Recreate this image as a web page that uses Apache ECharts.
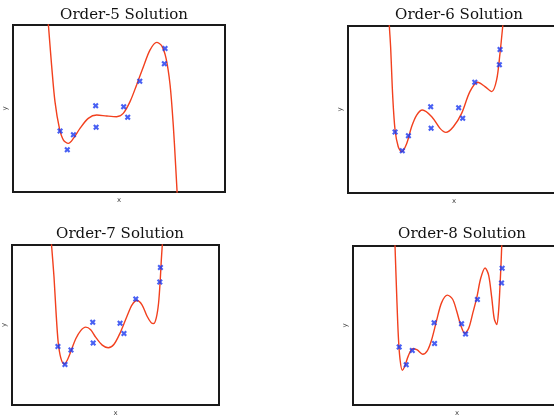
<!DOCTYPE html>
<html>
<head>
<meta charset="utf-8">
<script src="https://cdn.jsdelivr.net/npm/echarts@6/dist/echarts.min.js"></script>
<style>
html,body{margin:0;padding:0;background:#fff;overflow:hidden;width:554px;height:418px;}
#chart{width:570px;height:418px;}
</style>
</head>
<body>
<div id="chart"></div>
<script>
// Observed data points (same in every panel)
var pointX = [0.222, 0.256, 0.285, 0.390, 0.392, 0.522, 0.541, 0.598, 0.717, 0.714];
var pointY = [0.365, 0.253, 0.343, 0.517, 0.387, 0.511, 0.447, 0.663, 0.860, 0.768];

var titles = ["Order-5 Solution", "Order-6 Solution", "Order-7 Solution", "Order-8 Solution"];

// Fitted curves
var curve5X = [0.160, 0.167, 0.182, 0.198, 0.219, 0.238, 0.261, 0.285, 0.316, 0.355, 0.395, 0.442, 0.489, 0.520, 0.552, 0.583, 0.615, 0.646, 0.678, 0.701, 0.722, 0.741, 0.756, 0.767, 0.774, 0.780];
var curve5Y = [1.11, 1.00, 0.760, 0.541, 0.381, 0.311, 0.291, 0.321, 0.381, 0.441, 0.461, 0.455, 0.451, 0.471, 0.541, 0.641, 0.750, 0.850, 0.896, 0.876, 0.800, 0.641, 0.401, 0.162, 0.000, -0.14];

var curve6X = [0.188, 0.195, 0.201, 0.211, 0.222, 0.237, 0.253, 0.277, 0.300, 0.324, 0.351, 0.395, 0.434, 0.462, 0.497, 0.536, 0.575, 0.612, 0.646, 0.678, 0.701, 0.717, 0.730, 0.737];
var curve6Y = [1.17, 1.00, 0.876, 0.577, 0.377, 0.277, 0.247, 0.297, 0.397, 0.467, 0.497, 0.457, 0.387, 0.363, 0.397, 0.477, 0.607, 0.663, 0.637, 0.607, 0.677, 0.837, 1.00, 1.10];

var curve7X = [0.185, 0.191, 0.203, 0.212, 0.223, 0.236, 0.252, 0.268, 0.287, 0.308, 0.332, 0.356, 0.380, 0.404, 0.436, 0.465, 0.492, 0.524, 0.556, 0.580, 0.604, 0.628, 0.652, 0.672, 0.684, 0.697, 0.708, 0.716, 0.721, 0.726, 0.731];
var curve7Y = [1.10, 1.00, 0.798, 0.596, 0.394, 0.293, 0.256, 0.283, 0.344, 0.414, 0.465, 0.487, 0.471, 0.424, 0.374, 0.358, 0.378, 0.455, 0.556, 0.626, 0.653, 0.626, 0.556, 0.515, 0.509, 0.545, 0.636, 0.778, 0.899, 1.00, 1.10];

var curve8X = [0.199, 0.202, 0.210, 0.218, 0.226, 0.237, 0.250, 0.266, 0.287, 0.309, 0.335, 0.357, 0.378, 0.402, 0.426, 0.454, 0.479, 0.498, 0.518, 0.537, 0.556, 0.575, 0.595, 0.614, 0.635, 0.652, 0.667, 0.679, 0.691, 0.700, 0.707, 0.712, 0.715, 0.718];
var curve8Y = [1.12, 1.00, 0.695, 0.431, 0.289, 0.218, 0.248, 0.309, 0.354, 0.346, 0.319, 0.340, 0.410, 0.532, 0.644, 0.691, 0.665, 0.593, 0.502, 0.451, 0.482, 0.573, 0.675, 0.797, 0.862, 0.817, 0.675, 0.543, 0.506, 0.593, 0.756, 0.898, 1.00, 1.10];

var curvesX = [curve5X, curve6X, curve7X, curve8X];
var curvesY = [curve5Y, curve6Y, curve7Y, curve8Y];

var grids = [
  {left: 13, top: 25, width: 212, height: 167},
  {left: 348, top: 26, width: 212, height: 167},
  {left: 11, top: 245, width: 208, height: 165},
  {left: 353, top: 246, width: 208, height: 164}
];
var titleTops = [3, 3, 222, 222];
var titleCenters = [119, 454, 115, 457];

function zip(xs, ys){ return xs.map(function(x,i){ return [x, ys[i]]; }); }

var xMark = 'path://M0,2.5 L2.5,0 L5,2.5 L7.5,0 L10,2.5 L7.5,5 L10,7.5 L7.5,10 L5,7.5 L2.5,10 L0,7.5 L2.5,5 Z';

var option = {
  animation: false,
  backgroundColor: '#fff',
  title: [], grid: [], xAxis: [], yAxis: [], series: []
};

for (var i = 0; i < 4; i++) {
  var g = grids[i];
  var gg = Object.assign({show: true, borderColor: '#1a1a1a', borderWidth: 2, backgroundColor: '#fff'}, g);
  option.grid.push(gg);
  option.title.push({text: titles[i], left: titleCenters[i], textAlign: 'center', top: titleTops[i],
    textStyle: {fontFamily: 'DejaVu Serif', fontSize: 15, fontWeight: 'normal', color: '#111'}});
  var axisCommon = {
    min: 0, max: 1, gridIndex: i,
    axisLine: {show: false}, axisTick: {show: false}, axisLabel: {show: false}, splitLine: {show: false},
    nameLocation: 'middle',
    nameTextStyle: {fontSize: 7, color: '#444', fontFamily: 'DejaVu Sans'}
  };
  option.xAxis.push(Object.assign({type: 'value', name: 'x', nameGap: 5}, axisCommon));
  option.yAxis.push(Object.assign({type: 'value', name: 'y', nameGap: 4}, axisCommon));
  option.series.push({
    type: 'line', xAxisIndex: i, yAxisIndex: i,
    data: zip(curvesX[i], curvesY[i]),
    showSymbol: false, smooth: 0.3, clip: true,
    lineStyle: {color: '#f2401e', width: 1.4}
  });
  option.series.push({
    type: 'scatter', xAxisIndex: i, yAxisIndex: i,
    data: zip(pointX, pointY),
    symbol: xMark, symbolSize: 6,
    itemStyle: {color: '#1a38f0'}, z: 5
  });
}

var chart = echarts.init(document.getElementById('chart'), null, {renderer: 'canvas'});
chart.setOption(option);
</script>
</body>
</html>
